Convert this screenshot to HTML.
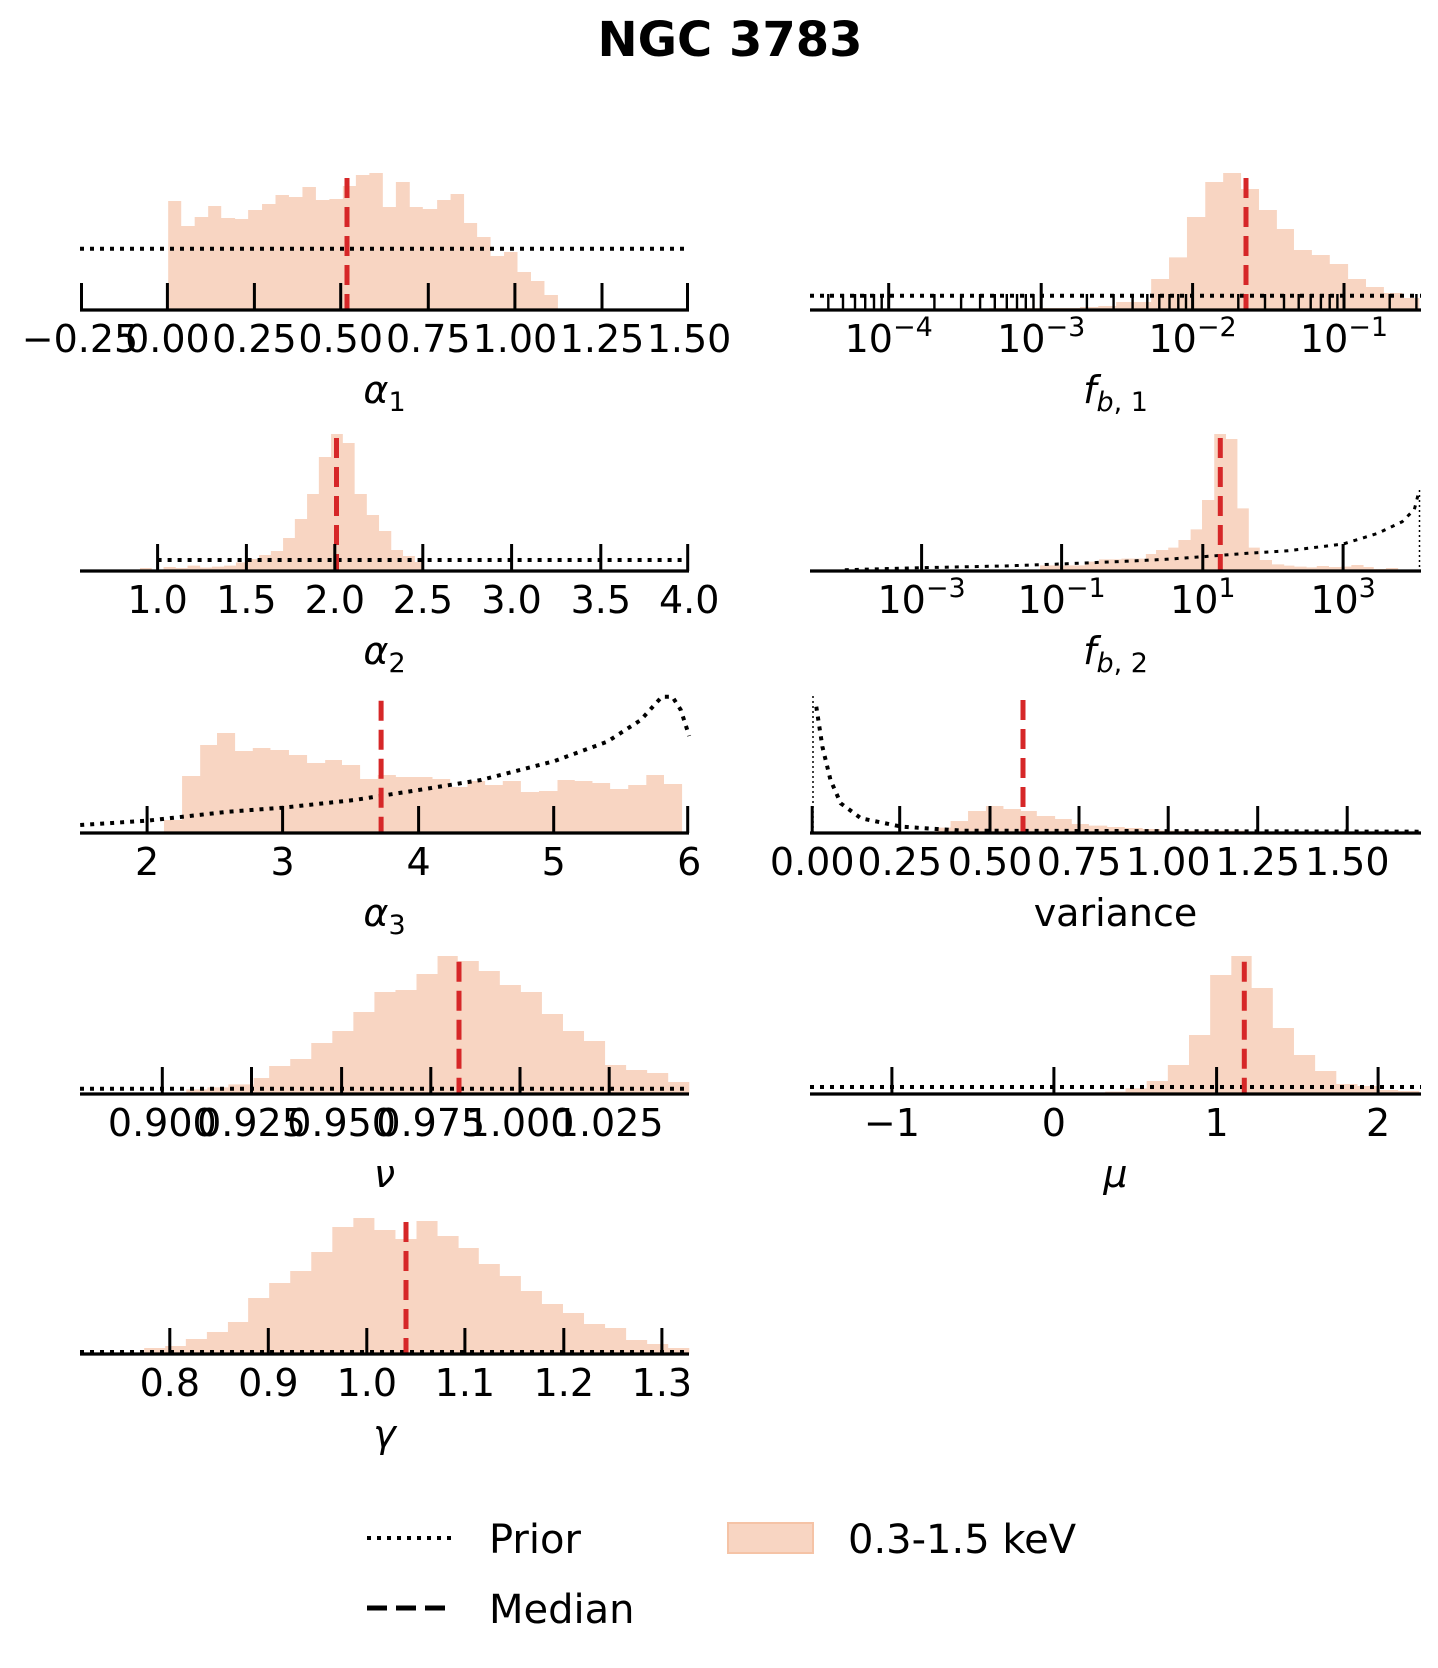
<!DOCTYPE html>
<html><head><meta charset="utf-8"><style>
html,body{margin:0;padding:0;background:#fff;}
svg{display:block;}
text{font-family:"DejaVu Sans","Liberation Sans",sans-serif;fill:#000;}
</style></head><body>
<svg xmlns="http://www.w3.org/2000/svg" width="1438" height="1668" viewBox="0 0 1438 1668">
<rect width="1438" height="1668" fill="#fff"/>
<text x="730" y="56" font-size="48" font-weight="bold" text-anchor="middle">NGC 3783</text>

<g fill="#f8d5c2">
<path transform="translate(60,150) scale(0.4209,0.33333)" d="M257 480 V153 H288 V228 H320 V201 H352 V168 H383 V204 H416 V207 H447 V180 H480 V162 H512 V135 H544 V141 H576 V111 H608 V150 H640 V147 H672 V108 H703 V75 H735 V69 H767 V171 H798 V96 H831 V171 H862 V177 H896 V150 H928 V132 H960 V219 H991 V261 H1023 V318 H1055 V306 H1087 V366 H1119 V393 H1151 V435 H1183 V480 Z"/>
<path transform="translate(800,150) scale(0.4069,0.33333)" d="M465 480 V474 H688 V471 H733 V468 H777 V456 H863 V387 H907 V322 H951 V201 H996 V96 H1040 V69 H1084 V117 H1128 V180 H1172 V237 H1214 V300 H1258 V315 H1302 V342 H1347 V387 H1391 V411 H1435 V429 H1480 V444 H1522 V480 Z"/>
<path transform="translate(60,420) scale(0.4209,0.33333)" d="M48 453 V449 H190 V444 H218 V449 H246 V441 H275 V444 H303 V437 H333 V443 H361 V440 H390 V437 H418 V427 H446 V417 H473 V405 H501 V393 H530 V354 H558 V297 H587 V222 H615 V111 H644 V42 H672 V69 H700 V222 H729 V285 H758 V333 H787 V390 H815 V408 H843 V426 H860 V453 Z"/>
<path transform="translate(800,420) scale(0.4069,0.33333)" d="M590 453 V436 H700 V425 H735 V418 H790 V416 H850 V402 H875 V390 H905 V383 H930 V360 H960 V328 H988 V240 H1018 V42 H1047 V57 H1075 V265 H1103 V383 H1130 V420 H1160 V433 H1190 V437 H1215 V440 H1245 V442 H1270 V438 H1300 V441 H1330 V440 H1355 V435 H1385 V441 H1410 V447 H1440 V444 H1470 V453 Z"/>
<path transform="translate(60,680) scale(0.4209,0.33333)" d="M247 460 V420 H290 V288 H333 V195 H373 V159 H416 V213 H458 V204 H500 V210 H544 V225 H587 V249 H630 V240 H670 V255 H713 V297 H755 V285 H798 V291 H842 V291 H885 V297 H927 V321 H968 V303 H1010 V315 H1052 V303 H1095 V336 H1138 V333 H1182 V300 H1223 V303 H1265 V309 H1307 V327 H1350 V315 H1393 V285 H1435 V312 H1478 V460 Z"/>
<path transform="translate(800,680) scale(0.4069,0.33333)" d="M333 460 V443 H370 V423 H413 V393 H457 V378 H500 V387 H543 V393 H582 V408 H627 V417 H668 V432 H710 V437 H755 V441 H798 V444 H842 V447 H885 V452 H1100 V460 Z"/>
<path transform="translate(60,930) scale(0.4209,0.33333)" d="M300 492 V478 H350 V472 H400 V463 H460 V444 H497 V408 H547 V387 H597 V339 H647 V303 H697 V246 H747 V186 H797 V180 H847 V132 H897 V78 H945 V93 H995 V123 H1045 V165 H1095 V186 H1145 V252 H1195 V303 H1245 V333 H1295 V405 H1345 V420 H1395 V429 H1445 V456 H1495 V492 Z"/>
<path transform="translate(800,930) scale(0.4069,0.33333)" d="M750 492 V485 H800 V475 H852 V453 H904 V405 H956 V315 H1008 V135 H1060 V78 H1110 V174 H1162 V294 H1214 V375 H1266 V423 H1318 V462 H1370 V468 H1420 V480 H1470 V483 H1522 V492 Z"/>
<path transform="translate(60,1190) scale(0.4209,0.33333)" d="M200 492 V474 H250 V468 H299 V447 H349 V426 H399 V396 H447 V324 H497 V279 H547 V243 H597 V186 H647 V111 H697 V84 H747 V120 H797 V147 H847 V93 H897 V138 H947 V174 H995 V222 H1045 V258 H1095 V303 H1145 V342 H1195 V369 H1245 V402 H1295 V414 H1345 V450 H1395 V462 H1445 V474 H1495 V492 Z"/>
</g>

<g fill="none" stroke="#000" stroke-width="4" stroke-dasharray="4,6">
<line x1="80" y1="248.7" x2="689" y2="248.7"/>
<line x1="810" y1="295.7" x2="1421" y2="295.7"/>
<line x1="157.6" y1="560" x2="689" y2="560"/>
<polyline stroke-width="3" points="844.8,569.7 922.1,567.7 1003.5,566 1060.4,564 1125.5,561.3 1166.2,559.3 1202.8,556.7 1247.6,553.3 1288.3,550.7 1343.2,544 1377.8,533.3 1402.2,521.7 1414.4,509.3 1419.3,490"/>
<polyline points="80.2,825 147.1,820.7 228.4,811.7 282.7,807.7 354.6,800 418.6,790 480.9,780 553.7,761.3 607.2,741.7 640.8,720 661.9,696.7 672.4,696.7 680.8,710 689.2,736"/>
<polyline points="816.3,706.7 822.4,746.7 830.5,780 840.7,803.3 861,818.3 901.7,826.7 962.8,830.7 1421.3,831.7"/>
<line x1="80" y1="1088.7" x2="689" y2="1088.7"/>
<line x1="810" y1="1087" x2="1421" y2="1087"/>
<line x1="80" y1="1352" x2="689" y2="1352"/>
</g>
<g stroke="#000" stroke-width="1.5" stroke-dasharray="2,3">
<line x1="1419.5" y1="490" x2="1419.5" y2="571"/>
<line x1="813" y1="833" x2="813" y2="695"/>
</g>

<g stroke="#d62728" stroke-width="5" stroke-dasharray="20,9">
<line x1="347" y1="178" x2="347" y2="310"/>
<line x1="1246" y1="178" x2="1246" y2="310"/>
<line x1="336.5" y1="438" x2="336.5" y2="571"/>
<line x1="1220.3" y1="438" x2="1220.3" y2="571"/>
<line x1="381.1" y1="700.7" x2="381.1" y2="833"/>
<line x1="1023" y1="700" x2="1023" y2="833"/>
<line x1="459" y1="961.7" x2="459" y2="1094"/>
<line x1="1244.3" y1="961.7" x2="1244.3" y2="1094"/>
<line x1="406" y1="1222" x2="406" y2="1354"/>
</g>

<g stroke="#000" stroke-width="3.2">
<line x1="80" y1="310" x2="689" y2="310"/>
<line x1="810" y1="310" x2="1421" y2="310"/>
<line x1="80" y1="571" x2="689" y2="571"/>
<line x1="810" y1="571" x2="1421" y2="571"/>
<line x1="80" y1="833" x2="689" y2="833"/>
<line x1="810" y1="833" x2="1421" y2="833"/>
<line x1="80" y1="1094" x2="689" y2="1094"/>
<line x1="810" y1="1094" x2="1421" y2="1094"/>
<line x1="80" y1="1354" x2="689" y2="1354"/>
</g>
<g stroke="#000" stroke-width="3">
<path d="M81.5 283V310M167.4 283V310M254.4 283V310M340.7 283V310M428.3 283V310M514.9 283V310M602 283V310M687.5 283V310"/>
<path d="M888.7 283V310M1041.2 283V310M1192.6 283V310M1344 283V310"/>
<path d="M157.6 544V571M246.4 544V571M334.8 544V571M422.8 544V571M511.6 544V571M600.8 544V571M687.7 544V571"/>
<path d="M921.6 544V571M1061.6 544V571M1202.8 544V571M1343.1 544V571"/>
<path d="M147.1 806V833M282.6 806V833M418.6 806V833M553.7 806V833M687.7 806V833"/>
<path d="M812.2 806V833M899.7 806V833M990 806V833M1079 806V833M1168.2 806V833M1257.7 806V833M1347.2 806V833"/>
<path d="M162.3 1067V1094M251.5 1067V1094M341.6 1067V1094M430.8 1067V1094M520 1067V1094M609.2 1067V1094"/>
<path d="M891.9 1067V1094M1053.9 1067V1094M1216.6 1067V1094M1378.1 1067V1094"/>
<path d="M169.8 1328V1354M268.3 1328V1354M366.8 1328V1354M464.9 1328V1354M563.8 1328V1354M661.9 1328V1354"/>
</g>
<g stroke="#000" stroke-width="2.4">
<path d="M828.3 294V310M843 294V310M855 294V310M865.2 294V310M874 294V310M881.7 294V310M934.4 294V310M961.1 294V310M980.1 294V310M994.8 294V310M1006.8 294V310M1017 294V310M1025.8 294V310M1033.5 294V310M1086.9 294V310M1113.6 294V310M1132.6 294V310M1147.3 294V310M1159.3 294V310M1169.5 294V310M1178.3 294V310M1186 294V310M1238.3 294V310M1265 294V310M1284 294V310M1298.7 294V310M1310.7 294V310M1320.9 294V310M1329.7 294V310M1337.4 294V310M1389.7 294V310M1416.4 294V310"/>
</g>

<g font-size="38" text-anchor="middle">
<text x="80" y="352">−0.25</text><text x="167.4" y="352">0.00</text><text x="254.4" y="352">0.25</text><text x="340.7" y="352">0.50</text><text x="428.3" y="352">0.75</text><text x="514.9" y="352">1.00</text><text x="602" y="352">1.25</text><text x="689" y="352">1.50</text>
<text x="888.7" y="352">10<tspan dy="-16" font-size="27">−4</tspan></text>
<text x="1041.2" y="352">10<tspan dy="-16" font-size="27">−3</tspan></text>
<text x="1192.6" y="352">10<tspan dy="-16" font-size="27">−2</tspan></text>
<text x="1344" y="352">10<tspan dy="-16" font-size="27">−1</tspan></text>
<text x="157.6" y="613">1.0</text><text x="246.4" y="613">1.5</text><text x="334.8" y="613">2.0</text><text x="422.8" y="613">2.5</text><text x="511.6" y="613">3.0</text><text x="600.8" y="613">3.5</text><text x="689.2" y="613">4.0</text>
<text x="921.6" y="613">10<tspan dy="-16" font-size="27">−3</tspan></text>
<text x="1061.6" y="613">10<tspan dy="-16" font-size="27">−1</tspan></text>
<text x="1202.8" y="613">10<tspan dy="-16" font-size="27">1</tspan></text>
<text x="1343.1" y="613">10<tspan dy="-16" font-size="27">3</tspan></text>
<text x="147.1" y="875">2</text><text x="282.6" y="875">3</text><text x="418.6" y="875">4</text><text x="553.7" y="875">5</text><text x="689.2" y="875">6</text>
<text x="812.2" y="875">0.00</text><text x="899.7" y="875">0.25</text><text x="990" y="875">0.50</text><text x="1079" y="875">0.75</text><text x="1168.2" y="875">1.00</text><text x="1257.7" y="875">1.25</text><text x="1347.2" y="875">1.50</text>
<text x="162.3" y="1136">0.900</text><text x="251.5" y="1136">0.925</text><text x="341.6" y="1136">0.950</text><text x="430.8" y="1136">0.975</text><text x="520" y="1136">1.000</text><text x="609.2" y="1136">1.025</text>
<text x="891.9" y="1136">−1</text><text x="1053.9" y="1136">0</text><text x="1216.6" y="1136">1</text><text x="1378.1" y="1136">2</text>
<text x="169.8" y="1396">0.8</text><text x="268.3" y="1396">0.9</text><text x="366.8" y="1396">1.0</text><text x="464.9" y="1396">1.1</text><text x="563.8" y="1396">1.2</text><text x="661.9" y="1396">1.3</text>
</g>

<g font-size="38" text-anchor="middle">
<text x="384.5" y="403"><tspan font-style="italic">α</tspan><tspan font-size="27" dy="8">1</tspan></text>
<text x="1115.5" y="403"><tspan font-style="italic">f</tspan><tspan font-size="27" dy="8"><tspan font-style="italic">b</tspan>, 1</tspan></text>
<text x="384.5" y="664"><tspan font-style="italic">α</tspan><tspan font-size="27" dy="8">2</tspan></text>
<text x="1115.5" y="664"><tspan font-style="italic">f</tspan><tspan font-size="27" dy="8"><tspan font-style="italic">b</tspan>, 2</tspan></text>
<text x="384.5" y="926"><tspan font-style="italic">α</tspan><tspan font-size="27" dy="8">3</tspan></text>
<text x="1115.5" y="926" font-size="38">variance</text>
<text x="384.5" y="1187" font-style="italic">ν</text>
<text x="1115.5" y="1187" font-style="italic">μ</text>
<text x="384.5" y="1447" font-style="italic">γ</text>
</g>

<line x1="367" y1="1538" x2="453" y2="1538" stroke="#000" stroke-width="4" stroke-dasharray="4,6"/>
<line x1="367" y1="1608" x2="453" y2="1608" stroke="#000" stroke-width="5" stroke-dasharray="20,9"/>
<rect x="728" y="1523" width="85" height="30" fill="#f8d5c2" stroke="#f5c3a6" stroke-width="2"/>
<g font-size="40">
<text x="489" y="1553">Prior</text>
<text x="489" y="1623">Median</text>
<text x="848" y="1553">0.3-1.5 keV</text>
</g>
</svg>
</body></html>
